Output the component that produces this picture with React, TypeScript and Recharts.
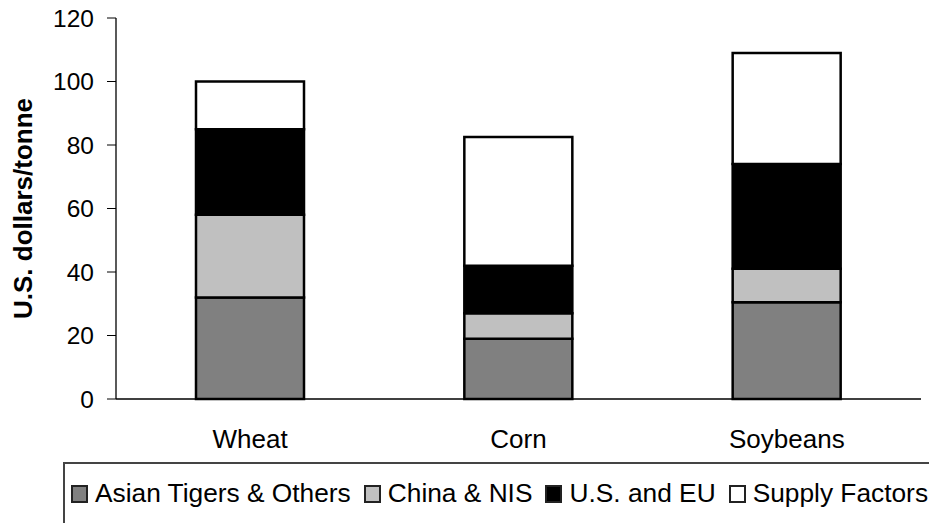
import { BarChart, Bar, XAxis, YAxis, Legend, Label } from "recharts"

const categories = ["Wheat", "Corn", "Soybeans"]
const asianTigers = [32, 19, 30.5]
const chinaNis = [26, 8, 10.5]
const usEu = [27, 15, 33]
const supplyFactors = [15, 40.5, 35]
const yTicks = [0, 20, 40, 60, 80, 100, 120]

type Series = {
  key: string
  name: string
  color: string
}

const series: Series[] = [
  { key: "asian", name: "Asian Tigers & Others", color: "#808080" },
  { key: "china", name: "China & NIS", color: "#c0c0c0" },
  { key: "us", name: "U.S. and EU", color: "#000000" },
  { key: "supply", name: "Supply Factors", color: "#ffffff" },
]

const data = categories.map((name, i) => ({
  name,
  asian: asianTigers[i],
  china: chinaNis[i],
  us: usEu[i],
  supply: supplyFactors[i],
}))

const FONT = '"Liberation Sans", Arial, sans-serif'

const LegendBox = () => (
  <div
    style={{
      display: "flex",
      alignItems: "center",
      height: "100%",
      paddingLeft: 6,
      boxSizing: "border-box",
      borderTop: "2px solid #444",
      borderLeft: "2px solid #444",
      fontFamily: FONT,
      fontSize: 26.3,
      color: "#000",
      whiteSpace: "nowrap",
    }}
  >
    {series.map((s) => (
      <span key={s.key} style={{ display: "inline-flex", alignItems: "center", marginRight: 13 }}>
        <span
          style={{
            display: "inline-block",
            width: 13,
            height: 14,
            background: s.color,
            border: "2px solid #222",
            marginRight: 7,
          }}
        />
        {s.name}
      </span>
    ))}
  </div>
)

const AxisTitle = (props: any) => {
  const vb = props.viewBox
  const x = 23
  const y = vb.y + vb.height / 2
  return (
    <text
      x={x}
      y={y}
      transform={`rotate(-90 ${x} ${y})`}
      textAnchor="middle"
      dominantBaseline="central"
      fontFamily={FONT}
      fontWeight="bold"
      fontSize={26}
      fill="#000"
    >
      U.S. dollars/tonne
    </text>
  )
}

export default function App() {
  return (
    <div style={{ position: "absolute", left: 0, top: 0, background: "#fff" }}>
      <BarChart
        width={929}
        height={523}
        data={data}
        margin={{ top: 18, right: 8, left: 0, bottom: 64 }}
        barSize={108}
      >
        <XAxis
          xAxisId="edge"
          type="number"
          domain={[0, 3]}
          ticks={[0, 1, 2, 3]}
          tick={false}
          tickSize={8}
          tickLine={{ stroke: "#000" }}
          axisLine={false}
          height={0}
        />
        <XAxis
          xAxisId="cat"
          dataKey="name"
          interval={0}
          tickLine={false}
          tickSize={0}
          tickMargin={31}
          axisLine={{ stroke: "#000", strokeWidth: 1.3 }}
          tick={{ fontSize: 26, fill: "#000", fontFamily: FONT }}
          height={60}
        />
        <YAxis
          width={116}
          domain={[0, 120]}
          ticks={yTicks}
          tickSize={9}
          tickMargin={13}
          axisLine={{ stroke: "#000", strokeWidth: 1.3 }}
          tickLine={{ stroke: "#000" }}
          tick={{ fontSize: 24.5, fill: "#000", fontFamily: FONT }}
        >
          <Label content={AxisTitle} />
        </YAxis>
        {series.map((s) => (
          <Bar
            key={s.key}
            xAxisId="cat"
            dataKey={s.key}
            name={s.name}
            stackId="a"
            fill={s.color}
            stroke="#000"
            strokeWidth={2.5}
            isAnimationActive={false}
          />
        ))}
        <Legend
          layout="horizontal"
          align="center"
          verticalAlign="middle"
          content={LegendBox}
          wrapperStyle={{ left: 63, top: 462, width: 866, height: 61 }}
        />
      </BarChart>
    </div>
  )
}
